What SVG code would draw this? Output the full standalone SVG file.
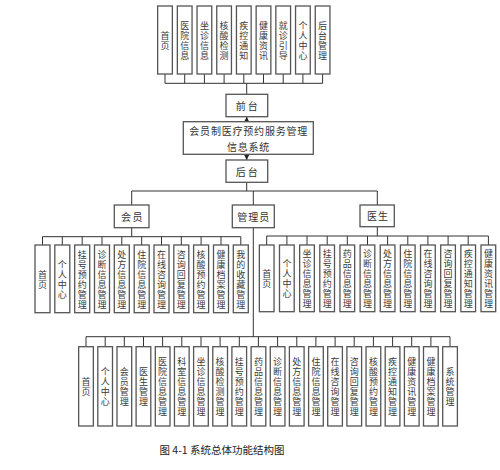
<svg xmlns="http://www.w3.org/2000/svg" width="500" height="470" viewBox="0 0 500 470">
<style>
rect.b{fill:#fff;stroke:#555;stroke-width:1.3}
.v{font-family:"Noto Sans CJK SC","Liberation Sans",sans-serif;font-size:9px;text-anchor:middle;dominant-baseline:central;fill:#3a3a3a}
.h{font-family:"Noto Sans CJK SC","Liberation Sans",sans-serif;font-size:10px;text-anchor:middle;dominant-baseline:central;fill:#333}
.c{fill:none;stroke:#333;stroke-width:1}
</style>
<defs>
<marker id="ar" markerUnits="userSpaceOnUse" markerWidth="6" markerHeight="6" refX="5" refY="3" orient="auto"><path d="M0,0.5 L5,3 L0,5.5 z" fill="#222"/></marker>
</defs>
<rect width="500" height="470" fill="#fff"/>
<g id="connectors">
<path class="c" d="M165,74V83.3M184.7,74V83.3M204.4,74V83.3M224.1,74V83.3M243.8,74V83.3M263.5,74V83.3M283.2,74V83.3M302.9,74V83.3M322.6,74V83.3M165,83.3H322.6M246.7,83.3V94.3"/>
<line class="c" x1="246.7" y1="121.7" x2="246.7" y2="116.8" marker-end="url(#ar)"/>
<line class="c" x1="246.7" y1="154.3" x2="246.7" y2="160" marker-end="url(#ar)"/>
<path class="c" d="M246.7,182.3V191M131.7,191H377.3M131.7,191V205M253.3,191V205M377.3,191V205"/>
<path class="c" d="M131.7,227.7V236.7M42.5,236.7H240.8M42.5,236.7V245M62.3,236.7V245M82.2,236.7V245M102,236.7V245M121.8,236.7V245M141.7,236.7V245M161.5,236.7V245M181.3,236.7V245M201.1,236.7V245M221,236.7V245M240.8,236.7V245"/>
<path class="c" d="M377.3,226.7V236M266.7,236H488.4M266.7,236V245M286.9,236V245M307,236V245M327.2,236V245M347.3,236V245M367.5,236V245M387.6,236V245M407.8,236V245M427.9,236V245M448.1,236V245M468.2,236V245M488.4,236V245"/>
<path class="c" d="M253.3,227.7V336.7M86,336.7H450M86,336.7V346.7M105.2,336.7V346.7M124.3,336.7V346.7M143.5,336.7V346.7M162.6,336.7V346.7M181.8,336.7V346.7M201,336.7V346.7M220.1,336.7V346.7M239.3,336.7V346.7M258.4,336.7V346.7M277.6,336.7V346.7M296.8,336.7V346.7M315.9,336.7V346.7M335.1,336.7V346.7M354.2,336.7V346.7M373.4,336.7V346.7M392.6,336.7V346.7M411.7,336.7V346.7M430.9,336.7V346.7M450,336.7V346.7"/>
</g>
<g id="top-row">
<g id="t1"><rect class="b" x="157.65" y="6" width="14.7" height="68"/><text class="v" x="165 165" y="35 45">首页</text></g>
<g id="t2"><rect class="b" x="177.35" y="6" width="14.7" height="68"/><text class="v" x="184.7 184.7 184.7 184.7" y="25 35 45 55">医院信息</text></g>
<g id="t3"><rect class="b" x="197.05" y="6" width="14.7" height="68"/><text class="v" x="204.4 204.4 204.4 204.4" y="25 35 45 55">坐诊信息</text></g>
<g id="t4"><rect class="b" x="216.75" y="6" width="14.7" height="68"/><text class="v" x="224.1 224.1 224.1 224.1" y="25 35 45 55">核酸检测</text></g>
<g id="t5"><rect class="b" x="236.45" y="6" width="14.7" height="68"/><text class="v" x="243.8 243.8 243.8 243.8" y="25 35 45 55">疾控通知</text></g>
<g id="t6"><rect class="b" x="256.15" y="6" width="14.7" height="68"/><text class="v" x="263.5 263.5 263.5 263.5" y="25 35 45 55">健康资讯</text></g>
<g id="t7"><rect class="b" x="275.85" y="6" width="14.7" height="68"/><text class="v" x="283.2 283.2 283.2 283.2" y="25 35 45 55">就诊引导</text></g>
<g id="t8"><rect class="b" x="295.55" y="6" width="14.7" height="68"/><text class="v" x="302.9 302.9 302.9 302.9" y="25 35 45 55">个人中心</text></g>
<g id="t9"><rect class="b" x="315.25" y="6" width="14.7" height="68"/><text class="v" x="322.6 322.6 322.6 322.6" y="25 35 45 55">后台管理</text></g>
</g>
<g id="qiantai"><rect class="b" x="226" y="94.3" width="41.7" height="22.4"/><text class="h" x="247.7" y="105.5" letter-spacing="2">前台</text></g>
<g id="system"><rect class="b" x="183.3" y="121.7" width="130" height="32.6"/><text class="h" letter-spacing="0.8"><tspan x="248.7" y="130.4">会员制医疗预约服务管理</tspan><tspan x="248.5" y="145.6">信息系统</tspan></text></g>
<g id="houtai"><rect class="b" x="226" y="160" width="41.7" height="22.3"/><text class="h" x="247.7" y="171.2" letter-spacing="2">后台</text></g>
<g id="huiyuan"><rect class="b" x="114.3" y="205" width="34.7" height="22.7"/><text class="h" x="132.5" y="216.3" letter-spacing="1.5">会员</text></g>
<g id="guanliyuan"><rect class="b" x="232.3" y="205" width="42" height="22.7"/><text class="h" x="253.8" y="216.3" letter-spacing="1">管理员</text></g>
<g id="yisheng"><rect class="b" x="360" y="205" width="34.3" height="21.7"/><text class="h" x="377.9" y="215.8" letter-spacing="1">医生</text></g>
<g id="member-items">
<g id="m1"><rect class="b" x="35" y="245" width="15" height="67.7"/><text class="v" x="42.5 42.5" y="274 284">首页</text></g>
<g id="m2"><rect class="b" x="54.8" y="245" width="15" height="67.7"/><text class="v" x="62.3 62.3 62.3 62.3" y="264 274 284 294">个人中心</text></g>
<g id="m3"><rect class="b" x="74.7" y="245" width="15" height="67.7"/><text class="v" x="82.2 82.2 82.2 82.2 82.2 82.2" y="254 264 274 284 294 304">挂号预约管理</text></g>
<g id="m4"><rect class="b" x="94.5" y="245" width="15" height="67.7"/><text class="v" x="102 102 102 102 102 102" y="254 264 274 284 294 304">诊断信息管理</text></g>
<g id="m5"><rect class="b" x="114.3" y="245" width="15" height="67.7"/><text class="v" x="121.8 121.8 121.8 121.8 121.8 121.8" y="254 264 274 284 294 304">处方信息管理</text></g>
<g id="m6"><rect class="b" x="134.2" y="245" width="15" height="67.7"/><text class="v" x="141.7 141.7 141.7 141.7 141.7 141.7" y="254 264 274 284 294 304">住院信息管理</text></g>
<g id="m7"><rect class="b" x="154" y="245" width="15" height="67.7"/><text class="v" x="161.5 161.5 161.5 161.5 161.5 161.5" y="254 264 274 284 294 304">在线咨询管理</text></g>
<g id="m8"><rect class="b" x="173.8" y="245" width="15" height="67.7"/><text class="v" x="181.3 181.3 181.3 181.3 181.3 181.3" y="254 264 274 284 294 304">咨询回复管理</text></g>
<g id="m9"><rect class="b" x="193.6" y="245" width="15" height="67.7"/><text class="v" x="201.1 201.1 201.1 201.1 201.1 201.1" y="254 264 274 284 294 304">核酸预约管理</text></g>
<g id="m10"><rect class="b" x="213.5" y="245" width="15" height="67.7"/><text class="v" x="221 221 221 221 221 221" y="254 264 274 284 294 304">健康档案管理</text></g>
<g id="m11"><rect class="b" x="233.3" y="245" width="15" height="67.7"/><text class="v" x="240.8 240.8 240.8 240.8 240.8 240.8" y="254 264 274 284 294 304">我的收藏管理</text></g>
</g>
<g id="doctor-items">
<g id="d1"><rect class="b" x="259.35" y="245" width="14.7" height="66.7"/><text class="v" x="266.7 266.7" y="273.5 283.5">首页</text></g>
<g id="d2"><rect class="b" x="279.5" y="245" width="14.7" height="66.7"/><text class="v" x="286.9 286.9 286.9 286.9" y="263.5 273.5 283.5 293.5">个人中心</text></g>
<g id="d3"><rect class="b" x="299.65" y="245" width="14.7" height="66.7"/><text class="v" x="307 307 307 307 307 307" y="253.5 263.5 273.5 283.5 293.5 303.5">坐诊信息管理</text></g>
<g id="d4"><rect class="b" x="319.8" y="245" width="14.7" height="66.7"/><text class="v" x="327.2 327.2 327.2 327.2 327.2 327.2" y="253.5 263.5 273.5 283.5 293.5 303.5">挂号预约管理</text></g>
<g id="d5"><rect class="b" x="339.95" y="245" width="14.7" height="66.7"/><text class="v" x="347.3 347.3 347.3 347.3 347.3 347.3" y="253.5 263.5 273.5 283.5 293.5 303.5">药品信息管理</text></g>
<g id="d6"><rect class="b" x="360.1" y="245" width="14.7" height="66.7"/><text class="v" x="367.5 367.5 367.5 367.5 367.5 367.5" y="253.5 263.5 273.5 283.5 293.5 303.5">诊断信息管理</text></g>
<g id="d7"><rect class="b" x="380.25" y="245" width="14.7" height="66.7"/><text class="v" x="387.6 387.6 387.6 387.6 387.6 387.6" y="253.5 263.5 273.5 283.5 293.5 303.5">处方信息管理</text></g>
<g id="d8"><rect class="b" x="400.4" y="245" width="14.7" height="66.7"/><text class="v" x="407.8 407.8 407.8 407.8 407.8 407.8" y="253.5 263.5 273.5 283.5 293.5 303.5">住院信息管理</text></g>
<g id="d9"><rect class="b" x="420.55" y="245" width="14.7" height="66.7"/><text class="v" x="427.9 427.9 427.9 427.9 427.9 427.9" y="253.5 263.5 273.5 283.5 293.5 303.5">在线咨询管理</text></g>
<g id="d10"><rect class="b" x="440.7" y="245" width="14.7" height="66.7"/><text class="v" x="448.1 448.1 448.1 448.1 448.1 448.1" y="253.5 263.5 273.5 283.5 293.5 303.5">咨询回复管理</text></g>
<g id="d11"><rect class="b" x="460.85" y="245" width="14.7" height="66.7"/><text class="v" x="468.2 468.2 468.2 468.2 468.2 468.2" y="253.5 263.5 273.5 283.5 293.5 303.5">疾控通知管理</text></g>
<g id="d12"><rect class="b" x="481" y="245" width="14.7" height="66.7"/><text class="v" x="488.4 488.4 488.4 488.4 488.4 488.4" y="253.5 263.5 273.5 283.5 293.5 303.5">健康资讯管理</text></g>
</g>
<g id="admin-items">
<g id="a1"><rect class="b" x="78.65" y="346.7" width="14.7" height="79.3"/><text class="v" x="86 86" y="381.5 391.5">首页</text></g>
<g id="a2"><rect class="b" x="97.8" y="346.7" width="14.7" height="79.3"/><text class="v" x="105.2 105.2 105.2 105.2" y="371.5 381.5 391.5 401.5">个人中心</text></g>
<g id="a3"><rect class="b" x="117" y="346.7" width="14.7" height="79.3"/><text class="v" x="124.3 124.3 124.3 124.3" y="371.5 381.5 391.5 401.5">会员管理</text></g>
<g id="a4"><rect class="b" x="136.1" y="346.7" width="14.7" height="79.3"/><text class="v" x="143.5 143.5 143.5 143.5" y="371.5 381.5 391.5 401.5">医生管理</text></g>
<g id="a5"><rect class="b" x="155.3" y="346.7" width="14.7" height="79.3"/><text class="v" x="162.6 162.6 162.6 162.6 162.6 162.6" y="361.5 371.5 381.5 391.5 401.5 411.5">医院信息管理</text></g>
<g id="a6"><rect class="b" x="174.45" y="346.7" width="14.7" height="79.3"/><text class="v" x="181.8 181.8 181.8 181.8 181.8 181.8" y="361.5 371.5 381.5 391.5 401.5 411.5">科室信息管理</text></g>
<g id="a7"><rect class="b" x="193.6" y="346.7" width="14.7" height="79.3"/><text class="v" x="201 201 201 201 201 201" y="361.5 371.5 381.5 391.5 401.5 411.5">坐诊信息管理</text></g>
<g id="a8"><rect class="b" x="212.8" y="346.7" width="14.7" height="79.3"/><text class="v" x="220.1 220.1 220.1 220.1 220.1 220.1" y="361.5 371.5 381.5 391.5 401.5 411.5">核酸检测管理</text></g>
<g id="a9"><rect class="b" x="231.9" y="346.7" width="14.7" height="79.3"/><text class="v" x="239.3 239.3 239.3 239.3 239.3 239.3" y="361.5 371.5 381.5 391.5 401.5 411.5">挂号预约管理</text></g>
<g id="a10"><rect class="b" x="251.1" y="346.7" width="14.7" height="79.3"/><text class="v" x="258.4 258.4 258.4 258.4 258.4 258.4" y="361.5 371.5 381.5 391.5 401.5 411.5">药品信息管理</text></g>
<g id="a11"><rect class="b" x="270.25" y="346.7" width="14.7" height="79.3"/><text class="v" x="277.6 277.6 277.6 277.6 277.6 277.6" y="361.5 371.5 381.5 391.5 401.5 411.5">诊断信息管理</text></g>
<g id="a12"><rect class="b" x="289.4" y="346.7" width="14.7" height="79.3"/><text class="v" x="296.8 296.8 296.8 296.8 296.8 296.8" y="361.5 371.5 381.5 391.5 401.5 411.5">处方信息管理</text></g>
<g id="a13"><rect class="b" x="308.6" y="346.7" width="14.7" height="79.3"/><text class="v" x="315.9 315.9 315.9 315.9 315.9 315.9" y="361.5 371.5 381.5 391.5 401.5 411.5">住院信息管理</text></g>
<g id="a14"><rect class="b" x="327.7" y="346.7" width="14.7" height="79.3"/><text class="v" x="335.1 335.1 335.1 335.1 335.1 335.1" y="361.5 371.5 381.5 391.5 401.5 411.5">在线咨询管理</text></g>
<g id="a15"><rect class="b" x="346.9" y="346.7" width="14.7" height="79.3"/><text class="v" x="354.2 354.2 354.2 354.2 354.2 354.2" y="361.5 371.5 381.5 391.5 401.5 411.5">咨询回复管理</text></g>
<g id="a16"><rect class="b" x="366.05" y="346.7" width="14.7" height="79.3"/><text class="v" x="373.4 373.4 373.4 373.4 373.4 373.4" y="361.5 371.5 381.5 391.5 401.5 411.5">核酸预约管理</text></g>
<g id="a17"><rect class="b" x="385.2" y="346.7" width="14.7" height="79.3"/><text class="v" x="392.6 392.6 392.6 392.6 392.6 392.6" y="361.5 371.5 381.5 391.5 401.5 411.5">疾控通知管理</text></g>
<g id="a18"><rect class="b" x="404.4" y="346.7" width="14.7" height="79.3"/><text class="v" x="411.7 411.7 411.7 411.7 411.7 411.7" y="361.5 371.5 381.5 391.5 401.5 411.5">健康资讯管理</text></g>
<g id="a19"><rect class="b" x="423.5" y="346.7" width="14.7" height="79.3"/><text class="v" x="430.9 430.9 430.9 430.9 430.9 430.9" y="361.5 371.5 381.5 391.5 401.5 411.5">健康档案管理</text></g>
<g id="a20"><rect class="b" x="442.7" y="346.7" width="14.7" height="79.3"/><text class="v" x="450 450 450 450" y="371.5 381.5 391.5 401.5">系统管理</text></g>
</g>
<text id="caption" x="222" y="449" class="h" style="font-size:10.5px;fill:#222">图 4-1 系统总体功能结构图</text>
</svg>
